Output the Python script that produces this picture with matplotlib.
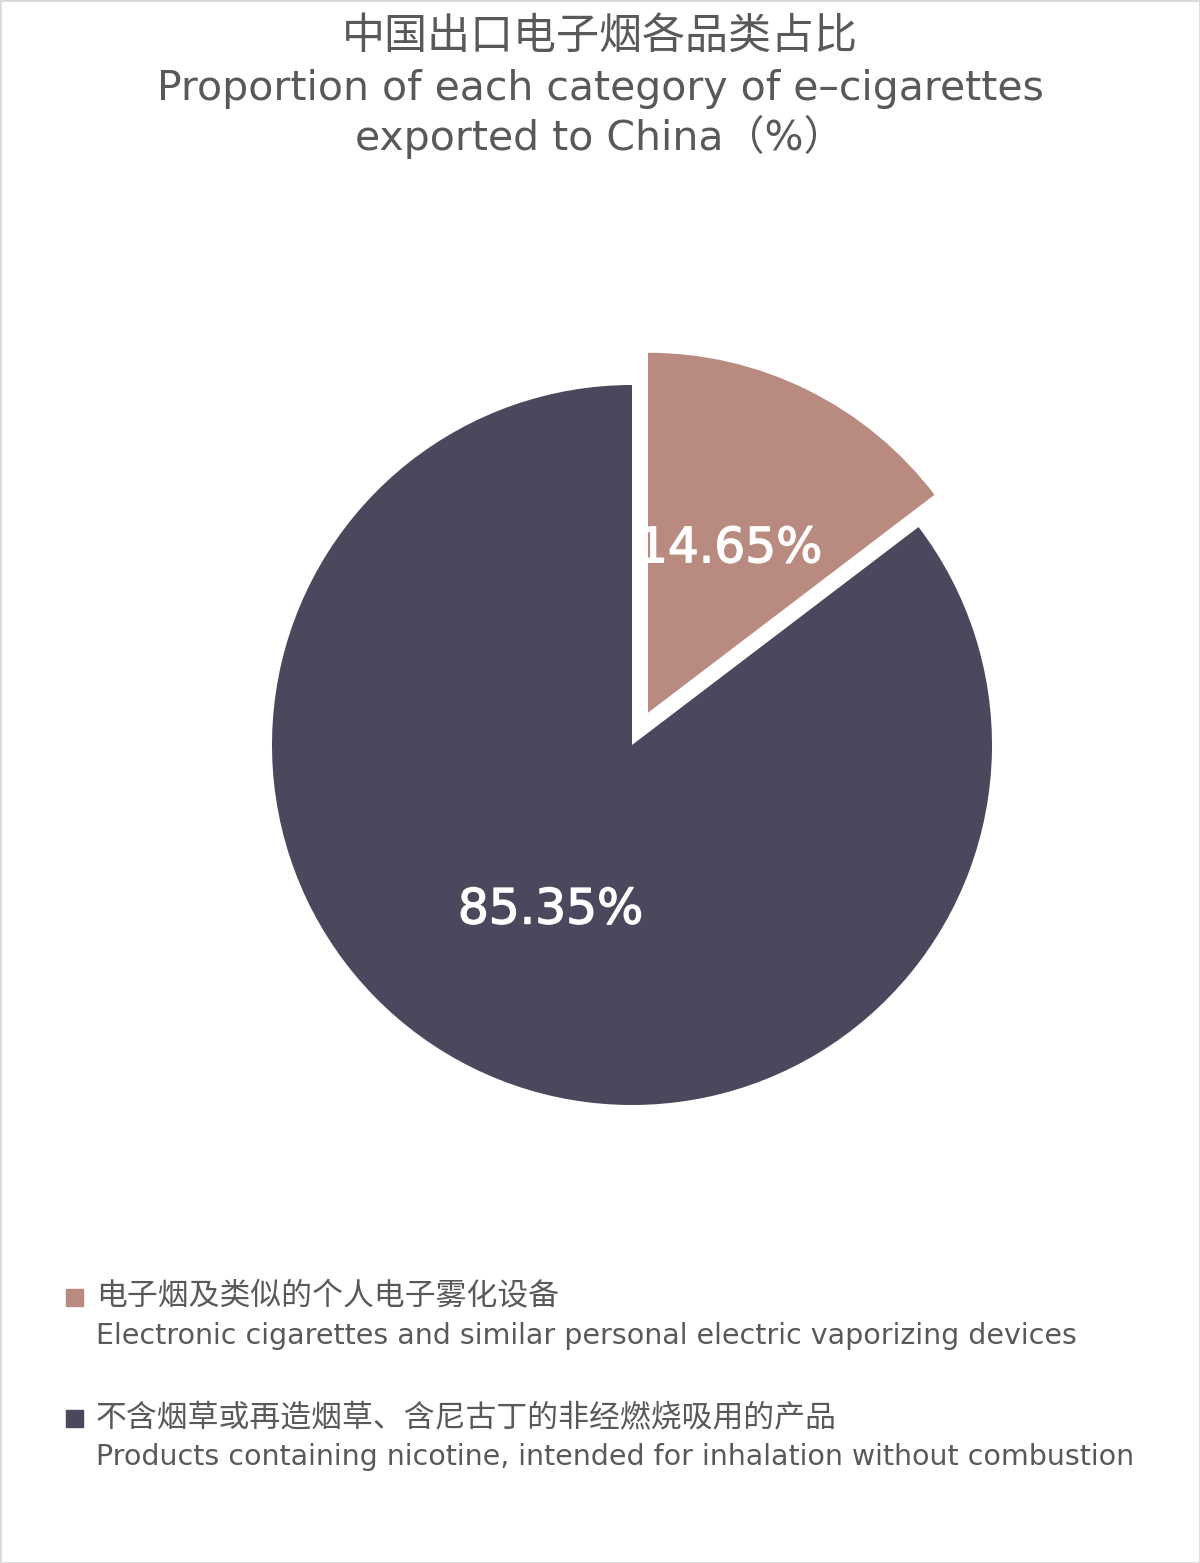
import matplotlib
matplotlib.use("Agg")
from matplotlib import pyplot as plt
from matplotlib.patches import Rectangle
import matplotlib.patheffects as pe

plt.rcParams['font.family'] = ['Noto Sans CJK SC', 'DejaVu Sans']
EN = ['DejaVu Sans', 'Noto Sans CJK SC']

# data
shares = [14.65, 85.35]
labels_cn = ["电子烟及类似的个人电子雾化设备", "不含烟草或再造烟草、含尼古丁的非经燃烧吸用的产品"]
labels_en = ["Electronic cigarettes and similar personal electric vaporizing devices",
             "Products containing nicotine, intended for inhalation without combustion"]
colors = ["#B98A80", "#4B475C"]
title_cn = "中国出口电子烟各品类占比"
title_en = ["Proportion of each category of e–cigarettes", "exported to China（%）"]

W, H = 1200, 1563
fig = plt.figure(figsize=(W / 100, H / 100), dpi=100)

# pie axes: centre at (632, 745) px, radius 360 px
R = 360
cx, cy = 632, 745
half = 1.2 * R
ax = fig.add_axes([(cx - half) / W, (H - cy - half) / H, 2 * half / W, 2 * half / H])
wedges, texts, autotexts = ax.pie(
    shares, colors=colors, explode=[0.1, 0], startangle=90, counterclock=False,
    autopct='%.2f%%', pctdistance=0.51,
    textprops=dict(color='white', fontsize=35, family='DejaVu Sans'))
for t in autotexts:
    t.set_path_effects([pe.withStroke(linewidth=1.0, foreground='white')])
ax.set_xlim(-1.2, 1.2)
ax.set_ylim(-1.2, 1.2)
ax.set_aspect('equal')
ax.axis('off')

# title
grey = "#595959"
fig.text(0.5, 1 - 37 / H, title_cn, ha='center', va='center', fontsize=31, color=grey)
fig.text(0.5, 1 - 100 / H, title_en[0], ha='center', va='baseline', fontsize=29.5,
         color=grey, family=EN)
fig.text(0.5, 1 - 150 / H, title_en[1], ha='center', va='baseline', fontsize=29.5,
         color=grey, family=EN)

# legend
ys_cn = [1297, 1418]
ys_en = [1344, 1465]
for i in range(len(shares)):
    fig.patches.append(Rectangle((66 / W, 1 - (ys_cn[i] + 9) / H), 17 / W, 17 / H,
                                 transform=fig.transFigure, color=colors[i]))
    fig.text(96 / W, 1 - ys_cn[i] / H, labels_cn[i], ha='left', va='center', fontsize=22.2, color=grey)
    fig.text(96 / W, 1 - ys_en[i] / H, labels_en[i], ha='left', va='baseline', fontsize=20.5,
             color=grey, family=EN)

# thin border
fig.patches.append(Rectangle((0, 0), 1, 1, transform=fig.transFigure, fill=False,
                             edgecolor='#D9D9D9', linewidth=2))

fig.savefig("out.png", dpi=100)
